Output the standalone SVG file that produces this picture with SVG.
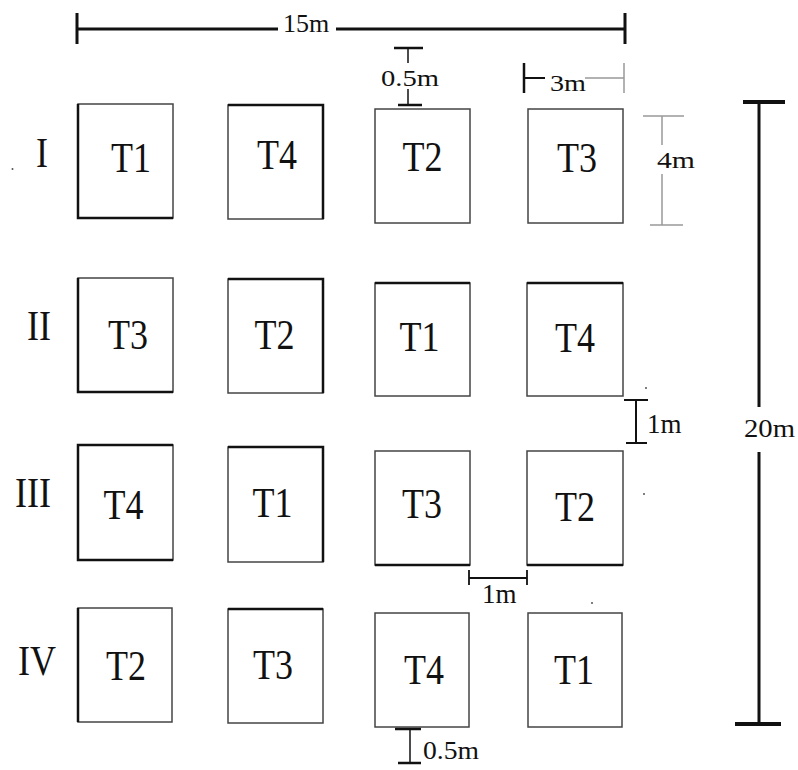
<svg xmlns="http://www.w3.org/2000/svg" width="798" height="770" viewBox="0 0 798 770">
<style>
  .box{fill:#fff;stroke:#444;stroke-width:1.5}
  .thick{stroke:#111;stroke-width:2.5;fill:none}
  .big{font-family:"Liberation Serif","Times New Roman",serif;font-size:36px;fill:#111}
  .small{font-family:"Liberation Serif","Times New Roman",serif;fill:#111}
  .dim{stroke:#111;fill:none}
  .gray{stroke:#999;fill:none;stroke-width:1.5}
</style>
<rect width="798" height="770" fill="#fff"/>

<g id="row-labels">
  <text class="big" transform="translate(36,167) scale(1,1.19)">I</text>
  <text class="big" transform="translate(27,340) scale(1,1.19)">II</text>
  <text class="big" transform="translate(15,507) scale(1,1.19)">III</text>
  <text class="big" transform="translate(18,675) scale(1,1.19)">IV</text>
</g>

<!-- Row I -->
<g id="r1c1"><rect class="box" x="78" y="104" width="95" height="114"/><path class="thick" d="M78,104 V218 H173"/><text class="big" text-anchor="middle" transform="translate(131,172) scale(1,1.19)">T1</text></g>
<g id="r1c2"><rect class="box" x="228" y="105" width="95" height="114"/><path class="thick" d="M228,105 H323 V219"/><text class="big" text-anchor="middle" transform="translate(277,169) scale(1,1.19)">T4</text></g>
<g id="r1c3"><rect class="box" x="375" y="109" width="95" height="114"/><text class="big" text-anchor="middle" transform="translate(422.5,171) scale(1,1.19)">T2</text></g>
<g id="r1c4"><rect class="box" x="528" y="109" width="95" height="114"/><text class="big" text-anchor="middle" transform="translate(577,172) scale(1,1.19)">T3</text></g>

<!-- Row II -->
<g id="r2c1"><rect class="box" x="78" y="278" width="95" height="114"/><path class="thick" d="M78,278 V392 H173"/><text class="big" text-anchor="middle" transform="translate(128,349) scale(1,1.19)">T3</text></g>
<g id="r2c2"><rect class="box" x="228" y="279" width="95" height="114"/><path class="thick" d="M228,279 H323 V393"/><text class="big" text-anchor="middle" transform="translate(274.5,349) scale(1,1.19)">T2</text></g>
<g id="r2c3"><rect class="box" x="375" y="283" width="95" height="113"/><path class="thick" d="M375,283 H470"/><text class="big" text-anchor="middle" transform="translate(419.5,351) scale(1,1.19)">T1</text></g>
<g id="r2c4"><rect class="box" x="527" y="283" width="96" height="113"/><path class="thick" d="M527,283 H623"/><text class="big" text-anchor="middle" transform="translate(575,352) scale(1,1.19)">T4</text></g>

<!-- Row III -->
<g id="r3c1"><rect class="box" x="78" y="445" width="95" height="115"/><path class="thick" d="M173,445 H78 V560 H173"/><text class="big" text-anchor="middle" transform="translate(123.5,519) scale(1,1.19)">T4</text></g>
<g id="r3c2"><rect class="box" x="228" y="447" width="95" height="115"/><path class="thick" d="M228,447 H323 V562"/><text class="big" text-anchor="middle" transform="translate(272.5,517) scale(1,1.19)">T1</text></g>
<g id="r3c3"><rect class="box" x="375" y="451" width="95" height="114"/><path class="thick" d="M375,565 H470"/><text class="big" text-anchor="middle" transform="translate(422,518) scale(1,1.19)">T3</text></g>
<g id="r3c4"><rect class="box" x="527" y="451" width="96" height="114"/><path class="thick" d="M527,565 H623"/><text class="big" text-anchor="middle" transform="translate(575,521) scale(1,1.19)">T2</text></g>

<!-- Row IV -->
<g id="r4c1"><rect class="box" x="78" y="608" width="94" height="114"/><path class="thick" d="M78,608 V722"/><text class="big" text-anchor="middle" transform="translate(126,680) scale(1,1.19)">T2</text></g>
<g id="r4c2"><rect class="box" x="228" y="609" width="95" height="114"/><path class="thick" d="M228,609 H323"/><text class="big" text-anchor="middle" transform="translate(273,679) scale(1,1.19)">T3</text></g>
<g id="r4c3"><rect class="box" x="375" y="613" width="94" height="114"/><text class="big" text-anchor="middle" transform="translate(424,684) scale(1,1.19)">T4</text></g>
<g id="r4c4"><rect class="box" x="528" y="613" width="94" height="114"/><text class="big" text-anchor="middle" transform="translate(574,684) scale(1,1.19)">T1</text></g>

<g id="connectors">
  <!-- 15m -->
  <path class="dim" stroke-width="3" d="M77,29 H278 M336,29 H625 M77,13 V44 M625,13 V44"/>
  <!-- 0.5m top -->
  <path class="dim" stroke-width="2.5" d="M394,48 H423 M398,105 H422"/>
  <path class="dim" stroke-width="1.5" d="M408,48 V63 M408,89 V105"/>
  <!-- 3m -->
  <path class="dim" stroke-width="2.5" d="M524,63 V93"/>
  <path class="dim" stroke-width="2" d="M524,78 H545"/>
  <path class="gray" d="M585,78 H624 M624,63 V93"/>
  <!-- 4m -->
  <path class="gray" d="M643,116 H684 M662,116 V145 M662,174 V225 M650,225 H683"/>
  <!-- 1m vertical -->
  <path class="dim" stroke-width="2" d="M636,400 V443 M624,400 H648 M626,443 H647"/>
  <!-- 1m horizontal -->
  <path class="dim" stroke-width="1.8" d="M469,578 H527 M469,570 V585 M527,570 V585"/>
  <!-- 0.5m bottom -->
  <path class="dim" stroke-width="2.5" d="M395,729 H421 M398,763 H421"/>
  <path class="dim" stroke-width="1.5" d="M410,729 V763"/>
  <!-- 20m -->
  <path class="dim" stroke-width="3" d="M759,102 V407 M759,452 V724"/>
  <path class="dim" stroke-width="4" d="M743,102 H785 M735,724 H781"/>
</g>

<g id="dim-labels">
  <text class="small" font-size="26" text-anchor="middle" x="306" y="32">15m</text>
  <text class="small" font-size="24" x="381" y="86" textLength="58" lengthAdjust="spacingAndGlyphs">0.5m</text>
  <text class="small" font-size="23" x="550" y="91" textLength="36" lengthAdjust="spacingAndGlyphs">3m</text>
  <text class="small" font-size="24" x="657" y="168" textLength="38" lengthAdjust="spacingAndGlyphs">4m</text>
  <text class="small" font-size="27" x="647" y="433">1m</text>
  <text class="small" font-size="26" x="744" y="437" textLength="51" lengthAdjust="spacingAndGlyphs">20m</text>
  <text class="small" font-size="27" x="482" y="603">1m</text>
  <text class="small" font-size="25" x="423" y="759" textLength="56" lengthAdjust="spacingAndGlyphs">0.5m</text>
</g>

<g id="specks" fill="#555">
  <circle cx="12.5" cy="169" r="1"/>
  <circle cx="646" cy="388" r="1"/>
  <circle cx="644" cy="494" r="1"/>
  <circle cx="592" cy="603" r="1"/>
</g>
</svg>
